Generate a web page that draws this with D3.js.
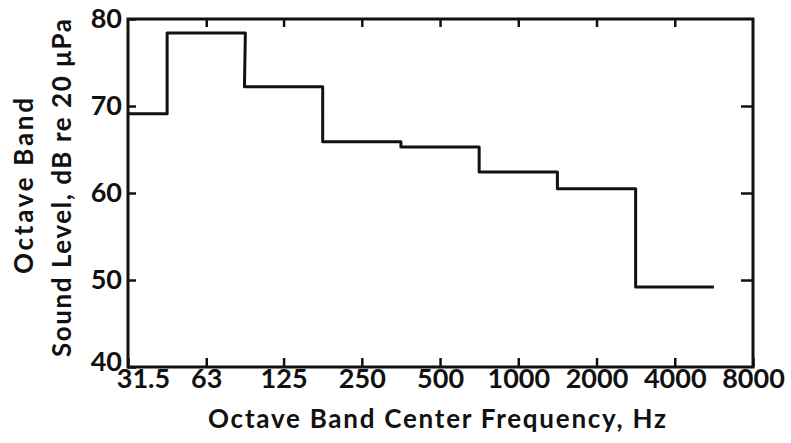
<!DOCTYPE html>
<html>
<head>
<meta charset="utf-8">
<script src="https://cdn.jsdelivr.net/npm/d3@7"></script>
<style>
  body { margin: 0; background: #fff; }
  text { font-family: Lato, "DejaVu Sans", sans-serif; font-weight: bold; fill: #111; }
</style>
</head>
<body>
<div id="chart"></div>
<script>
// octave band centres (Hz) and measured levels (dB re 20 µPa)
const bands = [31.5, 63, 125, 250, 500, 1000, 2000, 4000];
const levels = [69.1, 78.4, 72.2, 65.9, 65.3, 62.4, 60.5, 49.2];
const freqTicks = [31.5, 63, 125, 250, 500, 1000, 2000, 4000, 8000];
const levelTicks = [40, 50, 60, 70, 80];

const W = 791, H = 443;
const margin = { top: 19, right: 38, bottom: 76, left: 128 };
const width = W - margin.left - margin.right,
      height = H - margin.top - margin.bottom;

const svg = d3.select("#chart").append("svg")
    .attr("width", W)
    .attr("height", H);

const g = svg.append("g")
    .attr("transform", `translate(${margin.left},${margin.top})`);

const x = d3.scaleLog().base(2)
    .domain([31.5, 8000])
    .range([0, width]);

const y = d3.scaleLinear()
    .domain([40, 80])
    .range([height, 0]);

// step line: each band is flat from f/sqrt2 to f*sqrt2
const pts = [];
bands.forEach((f, i) => {
    const lo = Math.max(f / Math.SQRT2, 31.5);
    const hi = f * Math.SQRT2;
    pts.push([lo, levels[i]], [hi, levels[i]]);
});

const line = d3.line()
    .x(d => x(d[0]))
    .y(d => y(d[1]));

g.append("path")
    .datum(pts)
    .attr("fill", "none")
    .attr("stroke", "#111")
    .attr("stroke-width", 3)
    .attr("stroke-linejoin", "round")
    .attr("d", line);

// axes (ticks pointing inward)
const xb = g.append("g")
    .attr("transform", `translate(0,${height})`)
    .call(d3.axisBottom(x).tickValues(freqTicks).tickFormat(d => d).tickSize(-9).tickSizeOuter(0).tickPadding(3));
xb.select(".domain").remove();
xb.selectAll(".tick line").attr("stroke", "#111").attr("stroke-width", 2.5);
xb.selectAll(".tick text").attr("font-size", 27).attr("dy", "0.68em");
xb.selectAll(".tick text").filter(d => d === 31.5).attr("dx", 15);

const xt = g.append("g")
    .call(d3.axisTop(x).tickValues(freqTicks.slice(1, -1)).tickSize(-8).tickSizeOuter(0).tickFormat(""));
xt.select(".domain").remove();
xt.selectAll(".tick line").attr("stroke", "#111").attr("stroke-width", 2.5);

const yl = g.append("g")
    .call(d3.axisLeft(y).tickValues(levelTicks).tickSize(-8).tickSizeOuter(0).tickPadding(6));
yl.select(".domain").remove();
yl.selectAll(".tick line").attr("stroke", "#111").attr("stroke-width", 2.5);
yl.selectAll(".tick text").attr("font-size", 27);
yl.selectAll(".tick text").filter(d => d === 40).attr("dy", "0.12em");

const yr = g.append("g")
    .attr("transform", `translate(${width},0)`)
    .call(d3.axisRight(y).tickValues([50, 60, 70]).tickSize(-12).tickSizeOuter(0).tickFormat(""));
yr.select(".domain").remove();
yr.selectAll(".tick line").attr("stroke", "#111").attr("stroke-width", 2.5);

// frame
g.append("rect")
    .attr("width", width)
    .attr("height", height)
    .attr("fill", "none")
    .attr("stroke", "#111")
    .attr("stroke-width", 3);

// axis titles
svg.append("text")
    .attr("x", 437)
    .attr("y", 428)
    .attr("text-anchor", "middle")
    .attr("font-size", 26)
    .attr("textLength", 458)
    .attr("lengthAdjust", "spacing")
    .text("Octave Band Center Frequency, Hz");

svg.append("text")
    .attr("transform", "translate(33,186) rotate(-90)")
    .attr("text-anchor", "middle")
    .attr("font-size", 26)
    .attr("textLength", 176)
    .attr("lengthAdjust", "spacing")
    .text("Octave Band");

svg.append("text")
    .attr("transform", "translate(71,188) rotate(-90)")
    .attr("text-anchor", "middle")
    .attr("font-size", 26)
    .attr("textLength", 338)
    .attr("lengthAdjust", "spacing")
    .text("Sound Level, dB re 20 μPa");
</script>
</body>
</html>
